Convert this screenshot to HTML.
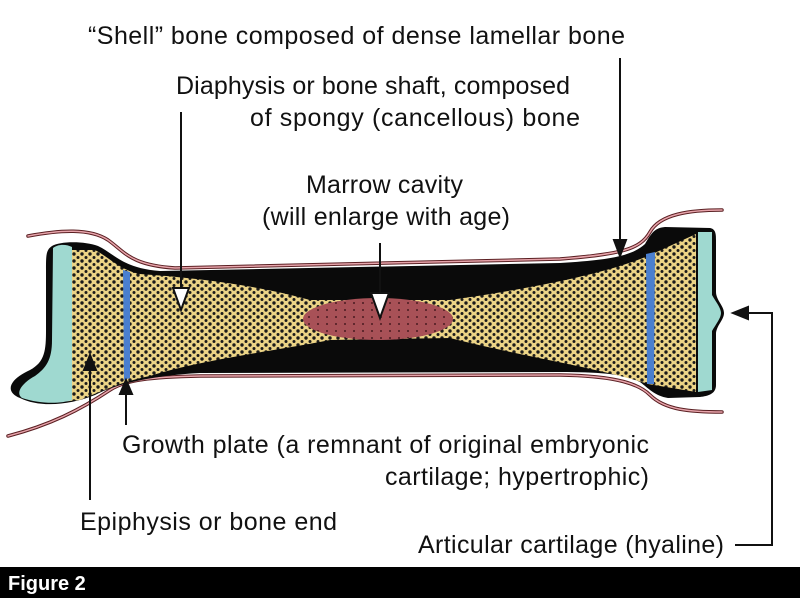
<!DOCTYPE html>
<html><head><meta charset="utf-8"><style>
html,body{margin:0;padding:0;background:#fff;}
svg{display:block;}
text{font-family:"Liberation Sans",Arial,sans-serif;font-size:25px;fill:#111;}
</style></head><body>
<svg width="800" height="598" viewBox="0 0 800 598" xmlns="http://www.w3.org/2000/svg">
<defs>
<pattern id="sp" width="8" height="7" patternUnits="userSpaceOnUse">
<rect width="8" height="7" fill="#ecd486"/>
<circle cx="2" cy="2" r="1.7" fill="#1a1a1a"/>
<circle cx="6" cy="5.5" r="1.5" fill="#1a1a1a"/>
</pattern>
<pattern id="mr" width="9" height="7" patternUnits="userSpaceOnUse">
<rect width="9" height="7" fill="#a85157"/>
<circle cx="3" cy="2" r="1" fill="#4a1a20"/>
</pattern>
</defs>
<g fill="none" stroke-linecap="round">
<path d="M28,236 C60,230 90,228 108,240 C125,252 130,265 175,268 L560,259 C620,254 640,250 650,232 C660,214 690,210 722,210" stroke="#5a1f22" stroke-width="3.5"/>
<path d="M28,236 C60,230 90,228 108,240 C125,252 130,265 175,268 L560,259 C620,254 640,250 650,232 C660,214 690,210 722,210" stroke="#e7a4ab" stroke-width="1.5"/>
<path d="M8,436 C50,425 80,410 110,390 C125,380 150,377 200,376 L560,375 C620,376 640,385 650,395 C665,410 690,412 722,412" stroke="#5a1f22" stroke-width="3.5"/>
<path d="M8,436 C50,425 80,410 110,390 C125,380 150,377 200,376 L560,375 C620,376 640,385 650,395 C665,410 690,412 722,412" stroke="#e7a4ab" stroke-width="1.5"/>
</g>
<path d="M52,246 C60,241 85,241 98,246 C115,254 122,268 160,271 L560,263 C610,260 632,256 645,244 C652,232 655,228 665,227 L710,228 C716,229 716,235 716,240 L716,292 C716,300 724,306 724,313 C724,320 716,326 716,334 L716,385 C716,394 708,396 700,397 L668,398 C655,396 648,388 640,382 C625,374 600,372 560,372 L200,373 C160,375 120,382 95,395 C70,405 40,408 20,398 C5,392 8,380 30,370 C45,362 46,350 46,330 L46,270 C46,255 46,250 52,246 Z" fill="#0a0a0a"/>
<path d="M60,250 L95,250 C110,258 120,270 140,274 C200,278 260,286 310,300 L450,300 C520,290 600,276 648,256 L696,234 L696,392 L648,384 C600,368 520,356 450,338 L330,340 C280,350 200,360 150,376 C120,382 100,392 80,400 L60,402 Z" fill="url(#sp)"/>
<ellipse cx="378" cy="319" rx="75" ry="21" fill="url(#mr)"/>
<path d="M53,248 C58,244 66,244 72,247 L72,400 C60,404 40,404 22,398 C15,393 22,383 35,376 C46,368 52,360 52,340 Z" fill="#9fd9d0"/>
<path d="M698,232 L712,232 L712,295 C716,302 721,308 721,313 C721,318 716,324 712,331 L712,390 L698,392 Z" fill="#9fd9d0"/>
<path d="M123,270 L130,272 L130,378 L124,380 Z" fill="#4a7fcf"/>
<path d="M646,254 L655,252 L654,384 L647,384 Z" fill="#4a7fcf"/>
<g stroke="#111" stroke-width="2" fill="#111">
<line x1="620" y1="58" x2="620" y2="245"/>
<path d="M614,240 L626,240 L620,256 Z"/>
<line x1="181" y1="112" x2="181" y2="300"/>
<path d="M173,288 L189,288 L181,310 Z" fill="#fff"/>
<line x1="380" y1="243" x2="380" y2="305"/>
<path d="M371,293 L389,293 L380,318 Z" fill="#fff"/>
<line x1="90" y1="500" x2="90" y2="365"/>
<path d="M84,370 L96,370 L90,355 Z"/>
<line x1="126" y1="425" x2="126" y2="390"/>
<path d="M120,394 L132,394 L126,380 Z"/>
<path d="M735,545 L772,545 L772,313 L745,313" fill="none"/>
<path d="M748,307 L748,319 L733,313 Z"/>
</g>
<text x="88" y="44" textLength="537">“Shell” bone composed of dense lamellar bone</text>
<text x="176" y="94" textLength="394">Diaphysis or bone shaft, composed</text>
<text x="250" y="126" textLength="330">of spongy (cancellous) bone</text>
<text x="306" y="193" textLength="157">Marrow cavity</text>
<text x="262" y="225" textLength="248">(will enlarge with age)</text>
<text x="122" y="453" textLength="527">Growth plate (a remnant of original embryonic</text>
<text x="385" y="485" textLength="264">cartilage; hypertrophic)</text>
<text x="80" y="530" textLength="257">Epiphysis or bone end</text>
<text x="418" y="553" textLength="306">Articular cartilage (hyaline)</text>
<rect x="0" y="567" width="800" height="31" fill="#000"/>
<text x="8" y="590" style="fill:#fff;font-weight:bold;font-size:20px">Figure 2</text>
</svg>
</body></html>
